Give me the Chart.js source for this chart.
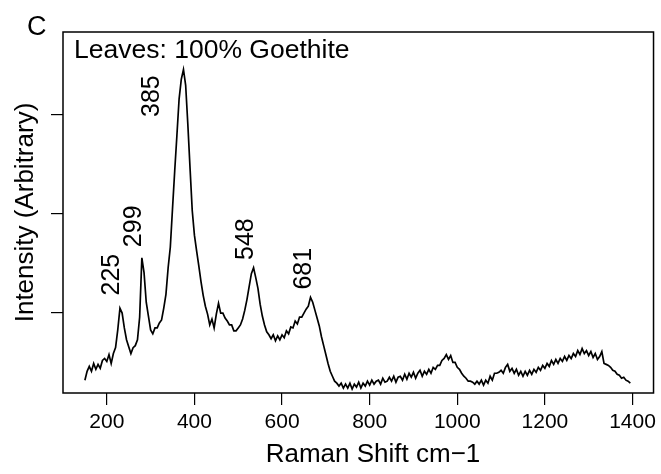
<!DOCTYPE html>
<html>
<head>
<meta charset="utf-8">
<script src="https://cdn.jsdelivr.net/npm/chart.js@4/dist/chart.umd.min.js"></script>
<style>
html, body { margin: 0; padding: 0; background: #fff; }
#ramanChart { display: block; }
</style>
</head>
<body>
<canvas id="ramanChart" width="661" height="474"></canvas>
<script>
// raman shift grid (cm-1): first point and spacing
var shiftStart = 150;
var shiftStep = 5;

// intensity, one row per 50 cm-1
var intensity = [
    31, 40, 45, 40, 48, 42, 47, 43, 51, 53,       // 150
    50, 57, 48, 58, 64, 82, 104, 99, 84, 72,      // 200
    65, 58, 64, 66, 72, 95, 155, 140, 110, 96,    // 250
    82, 78, 84, 84, 89, 92, 104, 118, 145, 166,   // 300
    205, 243, 279, 316, 336, 346, 330, 290, 246, 203, // 350
    178, 162, 147, 131, 117, 106, 98, 87, 93, 84, // 400
    98, 109, 99, 99, 94, 91, 87, 87, 81, 81,      // 450
    84, 87, 93, 102, 113, 126, 139, 145, 135, 124, // 500
    108, 96, 87, 80, 77, 73, 77, 71, 76, 72,      // 550
    77, 74, 81, 78, 85, 84, 91, 88, 95, 95,       // 600
    99, 103, 106, 115, 110, 102, 94, 86, 75, 66,  // 650
    57, 48, 40, 35, 30, 28, 25, 28, 23, 27,       // 700
    23, 28, 22, 27, 24, 29, 23, 28, 25, 30,       // 750
    26, 31, 27, 30, 31, 27, 33, 29, 30, 34,       // 800
    30, 35, 29, 34, 35, 31, 37, 32, 38, 34,       // 850
    39, 33, 38, 41, 35, 40, 37, 42, 38, 44,       // 900
    42, 46, 46, 51, 53, 57, 52, 56, 49, 49,       // 950
    44, 42, 38, 35, 33, 30, 30, 29, 27, 30,       // 1000
    27, 31, 26, 31, 28, 35, 31, 38, 38, 39,       // 1050
    41, 38, 44, 47, 40, 43, 38, 42, 36, 40,       // 1100
    35, 40, 36, 41, 37, 42, 39, 44, 41, 46,       // 1150
    43, 48, 45, 51, 47, 52, 48, 53, 50, 55,       // 1200
    51, 56, 53, 58, 55, 61, 57, 63, 58, 61,       // 1250
    56, 60, 54, 58, 52, 55, 60, 48, 47, 46,       // 1300
    44, 41, 40, 37, 36, 33, 34, 31, 30, 28        // 1350
];

var xTicks = [200, 400, 600, 800, 1000, 1200, 1400];
var yTicks = [100, 200, 300];

// peak annotations, placed in data units
var peakLabels = ['225', '299', '385', '548', '681'];
var peakLabelX = [212, 262, 304, 517, 650];
var peakLabelY = [138, 187, 319, 174, 144];

var panelLetter = 'C';
var sampleTitle = 'Leaves: 100% Goethite';
var xTitle = 'Raman Shift cm\u22121';
var yTitle = 'Intensity (Arbitrary)';

var FONT = '"Liberation Sans", Arial, Helvetica, sans-serif';

var Spectrum = {
    init: function () {
        var points = [];
        for (var i = 0; i < intensity.length; i++) {
            points.push({x: shiftStart + i * shiftStep, y: intensity[i]});
        }
        Spectrum.draw(points);
    },

    // box, panel letter, sample name, x title and peak numbers
    extras: {
        id: 'extras',
        afterDraw: function (chart) {
            var ctx = chart.ctx;
            var a = chart.chartArea;
            var sx = chart.scales.x;
            var sy = chart.scales.y;

            ctx.save();
            ctx.strokeStyle = '#000';
            ctx.lineWidth = 1.5;
            ctx.strokeRect(a.left, a.top, a.right - a.left, a.bottom - a.top);

            ctx.fillStyle = '#000';
            ctx.textAlign = 'left';
            ctx.textBaseline = 'alphabetic';
            ctx.font = '27px ' + FONT;
            ctx.fillText(panelLetter, 27, 35);
            ctx.font = '26.5px ' + FONT;
            ctx.fillText(sampleTitle, 74, 58);

            // R centres the x title a little right of the box centre
            ctx.textAlign = 'center';
            ctx.font = '26px ' + FONT;
            ctx.fillText(xTitle, 373, 462);

            ctx.font = '25px ' + FONT;
            ctx.textBaseline = 'middle';
            for (var i = 0; i < peakLabels.length; i++) {
                ctx.save();
                ctx.translate(sx.getPixelForValue(peakLabelX[i]), sy.getPixelForValue(peakLabelY[i]));
                ctx.rotate(-Math.PI / 2);
                ctx.fillText(peakLabels[i], 0, 0);
                ctx.restore();
            }
            ctx.restore();
        }
    },

    draw: function (points) {
        new Chart(document.getElementById('ramanChart'), {
            type: 'line',
            data: {
                datasets: [{
                    data: points,
                    borderColor: '#000',
                    borderWidth: 1.7,
                    pointRadius: 0,
                    tension: 0,
                    fill: false
                }]
            },
            options: {
                responsive: false,
                animation: false,
                devicePixelRatio: 1,
                layout: {padding: {top: 32, right: 4, left: 0, bottom: 0}},
                plugins: {legend: {display: false}, tooltip: {enabled: false}},
                scales: {
                    x: {
                        type: 'linear',
                        min: 100,
                        max: 1448,
                        afterFit: function (s) { s.height = 81; },
                        afterBuildTicks: function (s) {
                            s.ticks = xTicks.map(function (v) { return {value: v}; });
                        },
                        border: {display: false},
                        grid: {drawOnChartArea: false, drawTicks: true, tickLength: 12, color: '#000', lineWidth: 1.2},
                        ticks: {
                            color: '#000',
                            padding: 5,
                            maxRotation: 0,
                            font: {family: FONT, size: 21},
                            callback: function (v) { return String(v); }
                        },
                        title: {display: false}
                    },
                    y: {
                        type: 'linear',
                        min: 18,
                        max: 384,
                        afterFit: function (s) { s.width = 63; },
                        afterBuildTicks: function (s) {
                            s.ticks = yTicks.map(function (v) { return {value: v}; });
                        },
                        border: {display: false},
                        grid: {drawOnChartArea: false, drawTicks: true, tickLength: 12, color: '#000', lineWidth: 1.2},
                        ticks: {display: false},
                        title: {
                            display: true,
                            text: yTitle,
                            color: '#000',
                            font: {family: FONT, size: 26},
                            padding: {top: 10, bottom: 0}
                        }
                    }
                }
            },
            plugins: [Spectrum.extras]
        });
    }
};

Spectrum.init();
</script>
</body>
</html>
